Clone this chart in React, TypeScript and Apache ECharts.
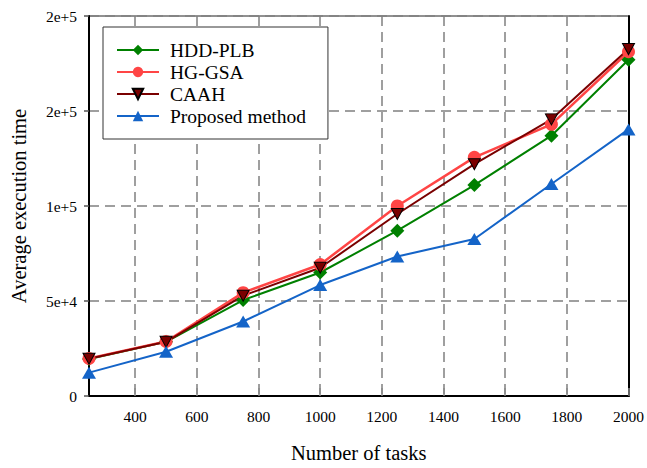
import React, { useEffect, useRef } from "react";
import * as echarts from "echarts";

const tasks = [250, 500, 750, 1000, 1250, 1500, 1750, 2000];
const hddPlb = [19500, 28500, 50500, 65000, 87000, 111000, 137000, 177000];
const hgGsa = [19800, 28700, 54400, 69200, 100000, 125600, 143000, 181200];
const caah = [19600, 28500, 52800, 67500, 95800, 122000, 145600, 182600];
const proposed = [12300, 23300, 39200, 58400, 73400, 82600, 111600, 140300];

const xTickValues = [400, 600, 800, 1000, 1200, 1400, 1600, 1800, 2000];
const yTickValues = [0, 50000, 100000, 150000, 200000];
const yTickLabels = ["0", "5e+4", "1e+5", "2e+5", "2e+5"];

const FONT = "Liberation Serif";

export default function App() {
  const ref = useRef<HTMLDivElement>(null);
  useEffect(() => {
    if (!ref.current) return;
    const chart = echarts.init(ref.current, undefined, { renderer: "svg" });
    const pair = (arr: number[]) => tasks.map((t, i) => [t, arr[i]]);
    const invTri = "path://M0,0L20,0L10,17.32Z";
    chart.setOption({
      animation: false,
      backgroundColor: "#ffffff",
      textStyle: { fontFamily: FONT },
      grid: {
        left: 88,
        right: 14,
        top: 16,
        bottom: 72,
        show: true,
        borderColor: "#222",
        borderWidth: 1,
        containLabel: false,
      },
      legend: {
        orient: "vertical",
        left: 103,
        top: 27,
        padding: [13, 22, 13, 13],
        itemGap: 2,
        itemWidth: 42,
        itemHeight: 13,
        backgroundColor: "#ffffff",
        borderColor: "#333",
        borderWidth: 1,
        borderRadius: 0,
        textStyle: { fontFamily: FONT, fontSize: 19.5, color: "#000", padding: [0, 0, 0, 6] },
        data: ["HDD-PLB", "HG-GSA", "CAAH", "Proposed method"],
      },
      xAxis: {
        type: "value",
        min: 250,
        max: 2000,
        name: "Number of tasks",
        nameLocation: "middle",
        nameGap: 46,
        nameTextStyle: { fontFamily: FONT, fontSize: 20.5, color: "#000" },
        axisLine: { show: true, onZero: false, lineStyle: { color: "#000", width: 2 } },
        axisTick: {
          show: true,
          inside: true,
          length: 8,
          customValues: xTickValues,
          lineStyle: { color: "#888", width: 1.5 },
        },
        axisLabel: {
          show: true,
          customValues: xTickValues,
          margin: 12,
          fontFamily: FONT,
          fontSize: 15.5,
          color: "#000",
          alignMaxLabel: "center",
          formatter: (v: number) => String(v),
        },
        splitLine: {
          show: true,
          lineStyle: { color: "#808080", width: 1.5, type: [10, 6] },
        },
      },
      yAxis: [
        {
          type: "value",
          min: 0,
          max: 200000,
          interval: 50000,
          name: "Average execution time",
          nameLocation: "middle",
          nameGap: 60,
          nameTextStyle: { fontFamily: FONT, fontSize: 20.5, color: "#000" },
          axisLine: { show: true, onZero: false, lineStyle: { color: "#000", width: 2 } },
          axisTick: { show: true, inside: false, length: 5, lineStyle: { color: "#555", width: 1.5 } },
          axisLabel: {
            margin: 12,
            fontFamily: FONT,
            fontSize: 15.5,
            color: "#000",
            formatter: (v: number) => {
              const i = yTickValues.indexOf(v);
              return i >= 0 ? yTickLabels[i] : "";
            },
          },
          splitLine: {
            show: true,
            lineStyle: { color: "#808080", width: 1.5, type: [10, 6] },
          },
        },
        {
          type: "value",
          position: "right",
          min: 0,
          max: 200000,
          interval: 50000,
          axisLine: { show: true, onZero: false, lineStyle: { color: "#000", width: 2 } },
          axisTick: { show: false },
          axisLabel: { show: false },
          splitLine: { show: false },
        },
      ],
      series: [
        {
          name: "HDD-PLB",
          type: "line",
          data: pair(hddPlb),
          symbol: "diamond",
          symbolSize: 14,
          color: "#008000",
          lineStyle: { width: 2, color: "#008000" },
          itemStyle: { color: "#008000" },
        },
        {
          name: "HG-GSA",
          type: "line",
          data: pair(hgGsa),
          symbol: "circle",
          symbolSize: 13,
          color: "#ff4545",
          lineStyle: { width: 2.5, color: "#ff4545" },
          itemStyle: { color: "#ff4545" },
        },
        {
          name: "CAAH",
          type: "line",
          data: pair(caah),
          symbol: invTri,
          symbolSize: [12, 11],
          color: "#7a0000",
          lineStyle: { width: 2, color: "#7a0000" },
          itemStyle: { color: "#7a0000", borderColor: "#000", borderWidth: 1 },
        },
        {
          name: "Proposed method",
          type: "line",
          data: pair(proposed),
          symbol: "triangle",
          symbolSize: [14, 12],
          color: "#1464c8",
          lineStyle: { width: 2, color: "#1464c8" },
          itemStyle: { color: "#1464c8" },
        },
      ],
    });
    return () => chart.dispose();
  }, []);
  return <div ref={ref} style={{ width: 647, height: 468, position: "absolute", left: 0, top: 0 }} />;
}
